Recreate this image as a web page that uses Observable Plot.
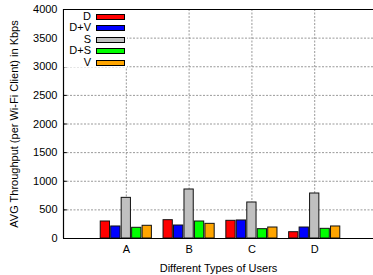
<!DOCTYPE html>
<html>
<head>
<meta charset="utf-8">
<script src="https://cdn.jsdelivr.net/npm/d3@7"></script>
<script src="https://cdn.jsdelivr.net/npm/@observablehq/plot@0.6"></script>
<style>
  html, body { margin: 0; padding: 0; background: #fff; }
  #wrap { position: relative; width: 373px; height: 275px; font-family: "Liberation Sans", Arial, sans-serif; }
  #legend { position: absolute; left: 64px; top: 10px; width: 63px; height: 57px; background: #fff; }
  .row { position: absolute; left: 0; height: 12px; width: 63px; }
  .lab { position: absolute; right: 36px; top: 0; font-size: 11px; line-height: 12px; color: #000; white-space: nowrap; }
  .sw { position: absolute; left: 32px; top: 4px; width: 27px; height: 4px; border: 1px solid #000; }
</style>
</head>
<body>
<div id="wrap"><div id="chart"></div><div id="legend"></div></div>
<script>
const categories = ["A", "B", "C", "D"];
const series = ["D", "D+V", "S", "D+S", "V"];
const colors = ["#ff0000", "#0000ff", "#c0c0c0", "#00ff00", "#ffa500"];
const valD  = [297, 320, 309, 110];
const valDV = [210, 227, 315, 192];
const valS  = [710, 856, 629, 786];
const valDS = [187, 297, 163, 169];
const valV  = [222, 256, 192, 210];
const yTicks = [0, 500, 1000, 1500, 2000, 2500, 3000, 3500, 4000];
const yGrid = [500, 1000, 1500, 2000, 2500, 3000, 3500];
const xLabel = "Different Types of Users";
const yLabel = "AVG Throughput (per Wi-Fi Client) in Kbps";

const seriesValues = [valD, valDV, valS, valDS, valV];
const rows = [];
seriesValues.forEach((vals, si) => {
  vals.forEach((v, ci) => rows.push({series: series[si], si, ci, cat: categories[ci], value: v}));
});
const catIdx = categories.map((c, i) => i);

const chart = Plot.plot({
  width: 373,
  height: 275,
  marginLeft: 63,
  marginRight: 0,
  marginTop: 9,
  marginBottom: 37,
  style: {fontFamily: "'Liberation Sans', Arial, sans-serif", fontSize: "11px", color: "#000", background: "#fff"},
  x: {type: "linear", domain: [-1, 3.936]},
  y: {type: "linear", domain: [0, 4000]},
  color: {domain: series, range: colors},
  marks: [
    Plot.ruleY(yGrid, {stroke: "#999", strokeDasharray: "2,1.5", strokeWidth: 1}),
    Plot.ruleX(catIdx, {stroke: "#999", strokeDasharray: "2,1.5", strokeWidth: 1}),
    Plot.rect(rows, {
      x1: d => d.ci + (d.si - 2.5) / 6,
      x2: d => d.ci + (d.si - 1.5) / 6,
      y1: 0, y2: "value",
      fill: "series", stroke: "#111", strokeWidth: 1,
      insetLeft: 0.6, insetRight: 0.6
    }),
    Plot.ruleY(yTicks, {x1: -1, x2: -0.94, stroke: "#000", strokeWidth: 1}),
    Plot.ruleY([0, 4000], {stroke: "#000", strokeWidth: 1.2}),
    Plot.ruleX([-1], {stroke: "#000", strokeWidth: 1.2}),
    Plot.axisY({ticks: yTicks, tickSize: 0, tickPadding: 6, tickFormat: d => String(d),
      label: yLabel, labelAnchor: "center", labelArrow: "none", labelOffset: 53, fontSize: 11}),
    Plot.axisX({ticks: catIdx, tickSize: 0, tickPadding: 7, tickFormat: i => categories[i],
      label: xLabel, labelAnchor: "center", labelArrow: "none", labelOffset: 33, fontSize: 11})
  ]
});
document.getElementById("chart").appendChild(chart);

const legend = document.getElementById("legend");
series.forEach((s, i) => {
  const row = document.createElement("div");
  row.className = "row";
  row.style.top = (i * 11.4) + "px";
  row.innerHTML = `<span class="lab">${s}</span><span class="sw" style="background:${colors[i]}"></span>`;
  legend.appendChild(row);
});
</script>
</body>
</html>
